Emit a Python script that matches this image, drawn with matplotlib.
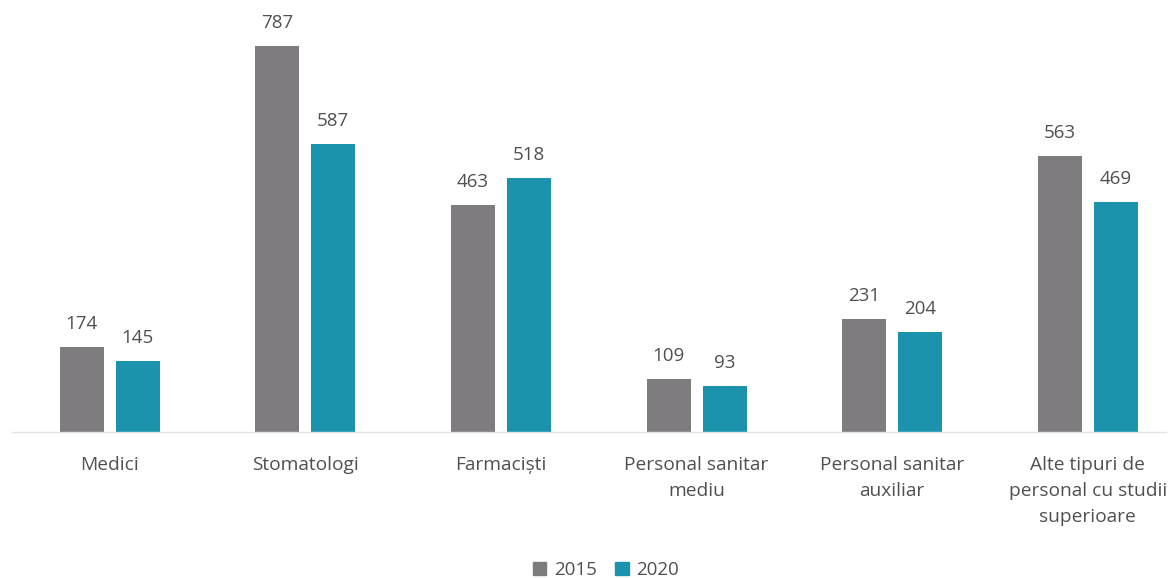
import matplotlib
matplotlib.use("Agg")
import matplotlib.pyplot as plt
from matplotlib.patches import Patch
import numpy as np

categories = ["Medici", "Stomatologi", "Farmaciști", "Personal sanitar\nmediu",
              "Personal sanitar\nauxiliar", "Alte tipuri de\npersonal cu studii\nsuperioare"]
series_names = ["2015", "2020"]
values_2015 = [174, 787, 463, 109, 231, 563]
values_2020 = [145, 587, 518, 93, 204, 469]

colors = ["#7f7c80", "#1b93ad"]
text_color = "#505050"
plt.rcParams['font.family'] = ['Open Sans', 'DejaVu Sans']

fig = plt.figure(figsize=(11.7, 5.78), dpi=100)
ax = fig.add_axes([12/1170, 1 - 432/578, 1154/1170, 432/578])

x = np.arange(len(categories))
w = 0.225
off = 0.143
b1 = ax.bar(x - off, values_2015, w, color=colors[0], label=series_names[0], zorder=2)
b2 = ax.bar(x + off, values_2020, w, color=colors[1], label=series_names[1], zorder=2)

for bars in (b1, b2):
    for r in bars:
        ax.annotate(f"{int(r.get_height())}", (r.get_x() + r.get_width()/2, r.get_height()),
                    xytext=(0, 10), textcoords="offset points", ha="center", va="bottom",
                    fontsize=13.5, color=text_color)

ax.set_xlim(-0.5, 5.4)
ax.set_ylim(0, 432/0.4905)
ax.set_xticks(x)
ax.set_xticklabels(categories, fontsize=13.8, color=text_color, linespacing=1.58)
ax.tick_params(axis='x', length=0, pad=17)
ax.set_yticks([])
for s in ["top", "right", "left"]:
    ax.spines[s].set_visible(False)
ax.spines["bottom"].set_color("#e4e4e4")
ax.spines["bottom"].set_linewidth(1)

handles = [Patch(color=colors[0]), Patch(color=colors[1])]
fig.legend(handles, series_names, loc="center", bbox_to_anchor=(0.518, 1 - 570/578),
           ncol=2, frameon=False, fontsize=13.5, handlelength=0.7, handleheight=0.7,
           handletextpad=0.4, columnspacing=1.0, labelcolor=text_color)

fig.savefig("out.png", dpi=100)
